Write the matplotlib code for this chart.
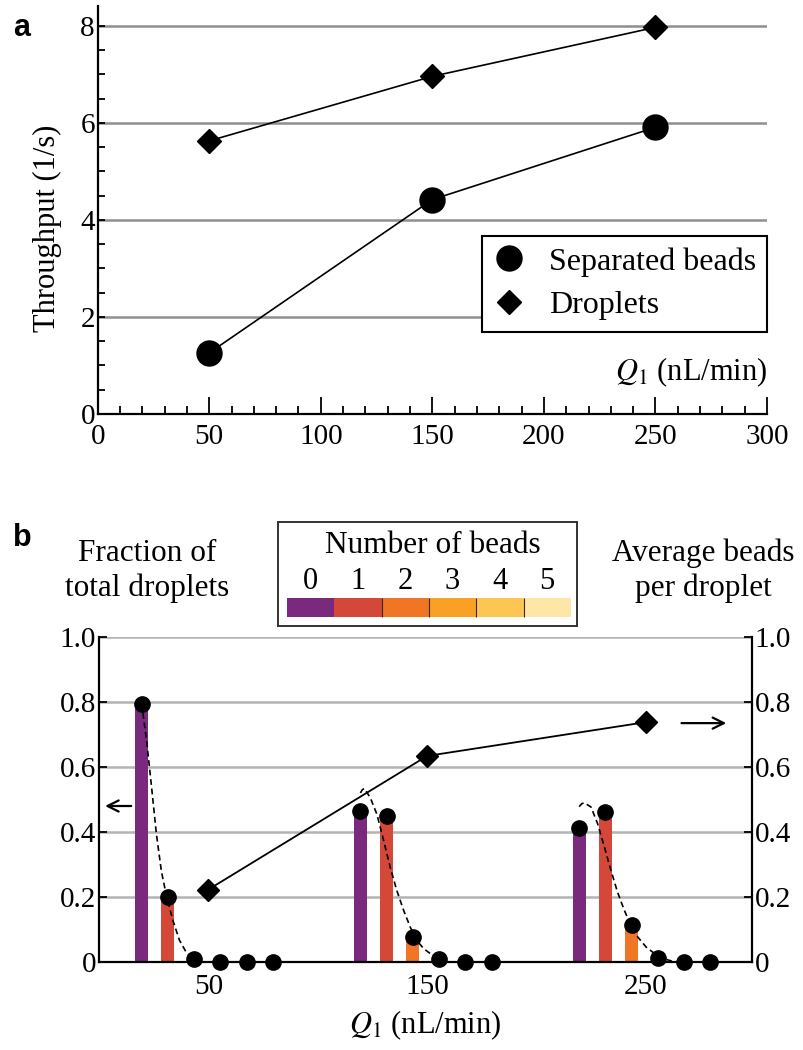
import matplotlib
matplotlib.use("Agg")
import matplotlib.pyplot as plt
from matplotlib.lines import Line2D
from matplotlib.ticker import MultipleLocator

# ---- panel a: throughput vs flow rate ----
q_a = [50, 150, 250]
separated_beads = [1.26, 4.42, 5.91]
droplets = [5.63, 6.96, 7.97]

# ---- panel b: bead-count distribution per droplet ----
q_b = [50, 150, 250]
bead_counts = [0, 1, 2, 3, 4, 5]
fraction_q50 = [0.795, 0.20, 0.01, 0.0, 0.0, 0.0]
fraction_q150 = [0.464, 0.449, 0.077, 0.008, 0.0, 0.0]
fraction_q250 = [0.413, 0.462, 0.113, 0.012, 0.0, 0.0]
avg_beads = [0.223, 0.634, 0.738]

# dashed fit curves (bead-count axis, fraction)
fit_k_q50 = [0.0, 0.19, 0.375, 0.56, 0.75, 0.94, 1.19, 1.44, 1.69, 1.94, 2.31]
fit_v_q50 = [0.795, 0.68, 0.54, 0.395, 0.28, 0.205, 0.128, 0.067, 0.031, 0.01, 0.0]
fit_k_q150 = [0.0, 0.07, 0.15, 0.38, 0.63, 0.89, 1.14, 1.39, 1.65, 1.9, 2.15, 2.41, 2.66, 2.91, 3.16]
fit_v_q150 = [0.52, 0.53, 0.534, 0.505, 0.454, 0.372, 0.29, 0.219, 0.158, 0.107, 0.066, 0.041, 0.026, 0.01, 0.0]
fit_k_q250 = [0.0, 0.1, 0.19, 0.45, 0.70, 0.96, 1.21, 1.46, 1.72, 1.97, 2.23, 2.55, 2.87, 3.25, 3.63]
fit_v_q250 = [0.478, 0.487, 0.49, 0.477, 0.426, 0.354, 0.282, 0.215, 0.159, 0.113, 0.077, 0.046, 0.026, 0.01, 0.0]

bead_colors = ["#7a2a7c", "#d4483a", "#f07524", "#f9a125", "#fdc552", "#fee6a6"]

# layout of the bead-count bins around each flow rate
BIN_START = -30.5
BIN_STEP = 12.0
BAR_W = 6.0

plt.rcParams["font.family"] = ["Liberation Serif", "DejaVu Serif"]
plt.rcParams["mathtext.fontset"] = "stix"

W, H = 804, 1050
fig = plt.figure(figsize=(W / 100, H / 100), dpi=100)


def rect(x0, y_top, x1, y_bot):
    return [x0 / W, 1 - y_bot / H, (x1 - x0) / W, (y_bot - y_top) / H]


# ================= panel a =================
axa = fig.add_axes(rect(97.7, 6, 767, 414))
axa.plot(q_a, droplets, color="black", lw=1.2, marker="D", ms=12, zorder=3)
axa.plot(q_a, separated_beads, color="black", lw=1.2, marker="o", ms=18, zorder=3)
axa.set_xlim(0, 300)
axa.set_ylim(0, 8.41)
axa.set_xticks(range(0, 301, 50))
axa.xaxis.set_minor_locator(MultipleLocator(10))
axa.set_yticks([0, 2, 4, 6, 8])
axa.yaxis.set_minor_locator(MultipleLocator(0.5))
axa.tick_params(axis="x", which="major", direction="in", length=12, width=1.3, pad=7.5, labelsize=21)
axa.tick_params(axis="x", which="minor", direction="in", length=6, width=1.3)
axa.tick_params(axis="y", which="both", direction="in", length=5, width=1.3, pad=2, labelsize=21)
axa.yaxis.grid(True, color="#8f8f8f", lw=1.8)
axa.set_axisbelow(True)
for s in ["top", "right"]:
    axa.spines[s].set_visible(False)
for s in ["left", "bottom"]:
    axa.spines[s].set_linewidth(1.6)
axa.set_ylabel("Throughput (1/s)", fontsize=22)
axa.yaxis.set_label_coords(-0.054, 0.455)
axa.text(300, 0.86, r"$Q_1$ (nL/min)", ha="right", va="center", fontsize=22)

handles = [
    Line2D([], [], ls="none", marker="o", ms=18, color="black"),
    Line2D([], [], ls="none", marker="D", ms=12, color="black"),
]
leg = axa.legend(handles, ["Separated beads", "Droplets"], loc="upper right",
                 bbox_to_anchor=(1.0, 3.67 / 8.41), borderaxespad=0, fontsize=23,
                 frameon=True, fancybox=False, edgecolor="black", framealpha=1,
                 borderpad=0.35, labelspacing=0.45, handlelength=1.0,
                 handletextpad=0.75)
leg.get_frame().set_linewidth(1.5)

fig.text(13 / W, 1 - 36 / H, "a", family=["Liberation Sans", "DejaVu Sans"],
         fontsize=22, fontweight="bold", ha="left", va="baseline")

# ================= panel b =================
axb = fig.add_axes(rect(99, 637, 752, 962))
fractions = [fraction_q50, fraction_q150, fraction_q250]
fits = [(fit_k_q50, fit_v_q50), (fit_k_q150, fit_v_q150), (fit_k_q250, fit_v_q250)]

for q, frac, (fk, fv) in zip(q_b, fractions, fits):
    xs = [q + BIN_START + BIN_STEP * k for k in bead_counts]
    axb.bar(xs, frac, width=BAR_W, color=bead_colors, zorder=2)
    fx = [q + BIN_START + BIN_STEP * k for k in fk]
    axb.plot(fx, fv, color="black", lw=1.2, ls=(0, (3.5, 2.2)), zorder=3)
    axb.plot(xs, frac, ls="none", marker="o", ms=11, color="black", zorder=4, clip_on=False)

axb.set_xlim(0, 298.5)
axb.set_ylim(0, 1)
axb.set_xticks(q_b)
axb.tick_params(axis="x", length=0, pad=9, labelsize=21)
yt = [0, 0.2, 0.4, 0.6, 0.8, 1.0]
ytl = ["0", "0.2", "0.4", "0.6", "0.8", "1.0"]
axb.set_yticks(yt)
axb.set_yticklabels(ytl)
axb.tick_params(axis="y", direction="in", length=6, width=1.3, pad=2, labelsize=21)
axb.yaxis.grid(True, color="#b3b3b3", lw=1.8)
axb.set_axisbelow(True)
for s in ["top", "right"]:
    axb.spines[s].set_visible(False)
for s in ["left", "bottom"]:
    axb.spines[s].set_linewidth(1.6)
axb.set_xlabel(r"$Q_1$ (nL/min)", fontsize=22, labelpad=6)

axr = axb.twinx()
axr.plot(q_b, avg_beads, color="black", lw=1.3, marker="D", ms=11.5, zorder=5)
axr.set_ylim(0, 1)
axr.set_yticks(yt)
axr.set_yticklabels(ytl)
axr.tick_params(axis="y", direction="in", length=6, width=1.3, pad=2, labelsize=21)
for s in ["top", "left", "bottom"]:
    axr.spines[s].set_visible(False)
axr.spines["right"].set_linewidth(1.6)

arrow = dict(arrowstyle="->", lw=1.6, color="black", mutation_scale=20)
axb.annotate("", xy=(1.5, 0.48), xytext=(16, 0.48), arrowprops=arrow)
axb.annotate("", xy=(288, 0.735), xytext=(265, 0.735), arrowprops=arrow)

fig.text(147 / W, 1 - 571 / H, "Fraction of\ntotal droplets", ha="center", va="center",
         fontsize=22.5, linespacing=1.25)
fig.text(703 / W, 1 - 571 / H, "Average beads\nper droplet", ha="center", va="center",
         fontsize=22.5, linespacing=1.25)
fig.text(13 / W, 1 - 546 / H, "b", family=["Liberation Sans", "DejaVu Sans"],
         fontsize=22, fontweight="bold", ha="left", va="baseline")

# colour key box
axk = fig.add_axes(rect(278, 522, 577, 626))
axk.set_xlim(-0.19, 6.13)
axk.set_ylim(0, 1)
axk.set_xticks([])
axk.set_yticks([])
for s in axk.spines.values():
    s.set_linewidth(1.4)
    s.set_color("#333333")
cells = [k + 0.5 for k in bead_counts]
axk.bar(cells, [0.183] * len(cells), bottom=0.087, width=1.0, color=bead_colors)
axk.vlines(bead_counts[2:], 0.087, 0.27, color="#3a2a1a", lw=0.8)
for c, k in zip(cells, bead_counts):
    axk.text(c, 0.43, str(k), ha="center", va="center", fontsize=22)
axk.text(3.08, 0.77, "Number of beads", ha="center", va="center", fontsize=22.5)

fig.savefig("out.png", dpi=100)
